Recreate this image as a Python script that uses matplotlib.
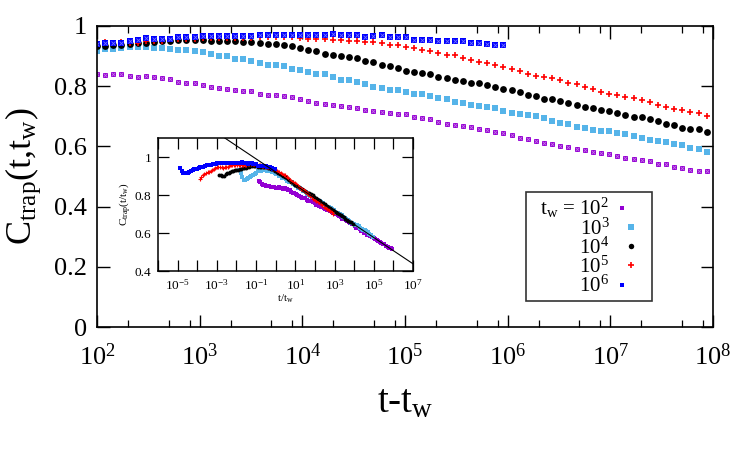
import numpy as np
import matplotlib
matplotlib.use('Agg')
import matplotlib.pyplot as plt
from matplotlib.ticker import LogLocator, FixedLocator, FuncFormatter, NullFormatter, LogFormatterMathtext
from matplotlib.legend_handler import HandlerTuple

plt.rcParams['font.family'] = ['Liberation Serif', 'DejaVu Serif']
plt.rcParams['mathtext.fontset'] = 'custom'
plt.rcParams['mathtext.rm'] = 'Liberation Serif'
plt.rcParams['mathtext.it'] = 'Liberation Serif:italic'
plt.rcParams['mathtext.bf'] = 'Liberation Serif:bold'

# ---------------- data ----------------
# measurement times t - t_w (geometric grid, factor 1.2 from 100)
t_main = 100 * 1.2 ** np.arange(76)
t_early = 100 * 1.2 ** np.arange(-11, 0)

tw_values = [1e2, 1e3, 1e4, 1e5, 1e6]
tw_labels = [r'$\ \ \mathrm{t_w}$ = $10^2$', r'$10^3$', r'$10^4$', r'$10^5$', r'$10^6$']

c_tw1e2 = [0.839, 0.837, 0.841, 0.839, 0.835, 0.832, 0.835, 0.830, 0.826, 0.825, 0.815, 0.812, 0.809,
           0.805, 0.799, 0.795, 0.790, 0.786, 0.783, 0.783, 0.775, 0.770, 0.770, 0.768, 0.763, 0.758,
           0.750, 0.745, 0.741, 0.739, 0.735, 0.732, 0.728, 0.722, 0.719, 0.715, 0.712, 0.707, 0.706,
           0.699, 0.693, 0.690, 0.682, 0.676, 0.672, 0.669, 0.663, 0.659, 0.655, 0.649, 0.645,
           0.639, 0.628, 0.626, 0.619, 0.612, 0.609, 0.600, 0.599, 0.592, 0.587, 0.583, 0.579,
           0.575, 0.568, 0.563, 0.557, 0.555, 0.550, 0.543, 0.541, 0.532, 0.528, 0.521, 0.519, 0.517]
c_tw1e3 = [0.918, 0.925, 0.925, 0.927, 0.930, 0.930, 0.930, 0.928, 0.926, 0.924, 0.920, 0.919, 0.916,
           0.912, 0.908, 0.900, 0.899, 0.892, 0.890, 0.885, 0.876, 0.871, 0.869, 0.866, 0.858, 0.853,
           0.848, 0.839, 0.839, 0.831, 0.821, 0.821, 0.815, 0.806, 0.799, 0.795, 0.789, 0.786, 0.781,
           0.775, 0.775, 0.768, 0.761, 0.759, 0.748, 0.743, 0.739, 0.735, 0.730, 0.728, 0.719,
           0.712, 0.706, 0.703, 0.701, 0.695, 0.683, 0.677, 0.675, 0.666, 0.661, 0.655, 0.652,
           0.650, 0.643, 0.641, 0.635, 0.628, 0.621, 0.617, 0.615, 0.608, 0.603, 0.595, 0.590, 0.581]
c_tw1e4 = [0.932, 0.933, 0.936, 0.937, 0.941, 0.943, 0.944, 0.946, 0.949, 0.951, 0.952, 0.953, 0.953,
           0.953, 0.950, 0.950, 0.950, 0.950, 0.948, 0.947, 0.944, 0.941, 0.939, 0.938, 0.933, 0.926,
           0.921, 0.917, 0.908, 0.903, 0.899, 0.897, 0.895, 0.883, 0.879, 0.870, 0.866, 0.859, 0.852,
           0.848, 0.843, 0.839, 0.832, 0.828, 0.819, 0.817, 0.810, 0.810, 0.803, 0.799, 0.792,
           0.786, 0.781, 0.772, 0.768, 0.759, 0.757, 0.752, 0.743, 0.739, 0.730, 0.728, 0.722,
           0.717, 0.710, 0.703, 0.699, 0.697, 0.690, 0.683, 0.675, 0.670, 0.661, 0.659, 0.657, 0.648]
c_tw1e5 = [0.945, 0.947, 0.945, 0.946, 0.944, 0.945, 0.949, 0.949, 0.951, 0.956, 0.958, 0.958, 0.958,
           0.960, 0.960, 0.960, 0.960, 0.960, 0.960, 0.960, 0.965, 0.965, 0.965, 0.963, 0.962, 0.960,
           0.958, 0.958, 0.958, 0.953, 0.952, 0.950, 0.950, 0.948, 0.946, 0.942, 0.938, 0.936, 0.930,
           0.927, 0.920, 0.917, 0.911, 0.905, 0.903, 0.893, 0.888, 0.879, 0.876, 0.870, 0.863,
           0.857, 0.849, 0.840, 0.834, 0.829, 0.826, 0.819, 0.811, 0.806, 0.797, 0.792, 0.781,
           0.775, 0.770, 0.763, 0.761, 0.753, 0.749, 0.737, 0.731, 0.725, 0.721, 0.714, 0.710, 0.702]
c_tw1e6 = [0.939, 0.942, 0.945, 0.945, 0.949, 0.953, 0.960, 0.958, 0.956, 0.958, 0.962, 0.965, 0.965,
           0.967, 0.967, 0.967, 0.967, 0.967, 0.967, 0.967, 0.969, 0.969, 0.969, 0.969, 0.969, 0.970,
           0.971, 0.971, 0.971, 0.973, 0.971, 0.969, 0.969, 0.965, 0.967, 0.969, 0.965, 0.965, 0.963,
           0.955, 0.955, 0.954, 0.951, 0.951, 0.951, 0.949, 0.945, 0.945, 0.940, 0.938, 0.938]

# early times (t - t_w < 100), only visible in the inset
e_tw1e2 = [0.876, 0.868, 0.860, 0.855, 0.852, 0.849, 0.847, 0.845, 0.843, 0.842, 0.840]
e_tw1e3 = [0.930, 0.915, 0.895, 0.880, 0.878, 0.882, 0.888, 0.895, 0.900, 0.907, 0.912]
e_tw1e4 = [0.905, 0.903, 0.900, 0.902, 0.908, 0.915, 0.918, 0.922, 0.925, 0.928, 0.930]
e_tw1e5 = [0.883, 0.895, 0.905, 0.913, 0.916, 0.920, 0.923, 0.927, 0.932, 0.936, 0.940]
e_tw1e6 = [0.940, 0.928, 0.918, 0.915, 0.915, 0.918, 0.922, 0.927, 0.930, 0.935, 0.937]

main_series = [c_tw1e2, c_tw1e3, c_tw1e4, c_tw1e5, c_tw1e6]
early_series = [e_tw1e2, e_tw1e3, e_tw1e4, e_tw1e5, e_tw1e6]

# inset guide line: C = a - b*log10(t/t_w)
line_a, line_b = 0.921, 0.069

main_xticks = [1e2, 1e3, 1e4, 1e5, 1e6, 1e7, 1e8]
main_yticks = [0, 0.2, 0.4, 0.6, 0.8, 1]
inset_yticks = [0.4, 0.6, 0.8, 1]

# ---------------- styles ----------------
colors = ['#9400D3', '#56B4E9', '#000000', '#FF0000', '#0000FF']
markers = ['s', 's', 'o', '+', 's']
msizes = [3.6, 4.8, 4.9, 4.6, 4.0]
crossed = [True, False, False, False, True]

fig = plt.figure(figsize=(7.5, 4.5), dpi=100)
ax = fig.add_axes([97/750, 1-327/450, 616/750, 301/450])

handles = []
for ys, c, m, s, cr in zip(main_series, colors, markers, msizes, crossed):
    n = len(ys)
    h1, = ax.plot(t_main[:n], ys, linestyle='none', marker=m, color=c, ms=s,
                  mew=1.2 if m == '+' else 0.0)
    if cr:
        h2, = ax.plot(t_main[:n], ys, linestyle='none', marker='x', color='white',
                      alpha=0.45, ms=s*0.75, mew=0.6)
        handles.append((h1, h2))
    else:
        handles.append(h1)

ax.set_xscale('log')
ax.set_xlim(1e2, 1e8)
ax.set_ylim(0, 1)
ax.xaxis.set_major_locator(FixedLocator(main_xticks))
ax.xaxis.set_major_formatter(LogFormatterMathtext())
ax.xaxis.set_minor_locator(LogLocator(base=10, subs=[2, 5, 8], numticks=20))
ax.xaxis.set_minor_formatter(NullFormatter())
ax.yaxis.set_major_locator(FixedLocator(main_yticks))
ax.yaxis.set_major_formatter(FuncFormatter(lambda v, p: '%g' % v))
ax.tick_params(which='both', direction='in', top=True, right=True)
ax.tick_params(which='major', length=9, width=1.0, labelsize=19)
ax.tick_params(axis='x', which='major', pad=12)
ax.tick_params(axis='y', which='major', pad=7)
ax.tick_params(which='minor', length=5, width=0.9)
for sp in ax.spines.values():
    sp.set_linewidth(1.2)

ax.set_xlabel(r'$\mathrm{t\text{-}t_w}$', fontsize=28, labelpad=10)
ax.set_ylabel(r'$\mathrm{C_{trap}(t{,}t_w)}$', fontsize=26, labelpad=8)

leg = ax.legend(handles, tw_labels, loc='upper right', bbox_to_anchor=(0.901, 0.4485),
                borderaxespad=0, markerfirst=False, fontsize=15, frameon=True, fancybox=False,
                handler_map={tuple: HandlerTuple(ndivide=None)}, handlelength=1.6,
                handletextpad=0.25, labelspacing=-0.1, borderpad=0.2, markerscale=0.8)
leg.get_frame().set_edgecolor('black')
leg.get_frame().set_linewidth(1.2)

# ---------------- inset ----------------
axi = fig.add_axes([158/750, 1-271/450, 255/750, 133/450])
for ys, es, tw, c, m, cr in zip(main_series, early_series, tw_values, colors, markers, crossed):
    n = len(ys)
    xs = np.concatenate([t_early, t_main[:n]]) / tw
    yy = np.concatenate([es, ys])
    axi.plot(xs, yy, linestyle='none', marker=m, color=c, ms=2.8 if m != '+' else 3.2,
             mew=0.8 if m == '+' else 0.0)

axi.set_xscale('log')
axi.set_xlim(1e-6, 1e7)
axi.set_ylim(0.4, 1.1)
xl = np.array(axi.get_xlim())
axi.plot(xl, line_a - line_b * np.log10(xl), color='black', lw=0.8)
axi.xaxis.set_major_locator(LogLocator(base=10, numticks=30))
axi.xaxis.set_major_formatter(FuncFormatter(
    lambda v, p: (r'$\mathdefault{10^{%d}}$' % round(np.log10(v))) if round(np.log10(v)) % 2 else ''))
axi.xaxis.set_minor_locator(LogLocator(base=10, subs=[], numticks=30))
axi.yaxis.set_major_locator(FixedLocator(inset_yticks))
axi.yaxis.set_major_formatter(FuncFormatter(lambda v, p: '%g' % v))
axi.tick_params(which='both', direction='in', top=True, right=True)
axi.tick_params(which='major', length=8, width=0.9, labelsize=9.5, pad=5)
for sp in axi.spines.values():
    sp.set_linewidth(1.1)
axi.set_xlabel(r'$\mathrm{t/t_w}$', fontsize=8, labelpad=0)
axi.set_ylabel(r'$\mathrm{C_{trap}(t/t_w)}$', fontsize=8, labelpad=1)

fig.savefig('out.png', dpi=100)
